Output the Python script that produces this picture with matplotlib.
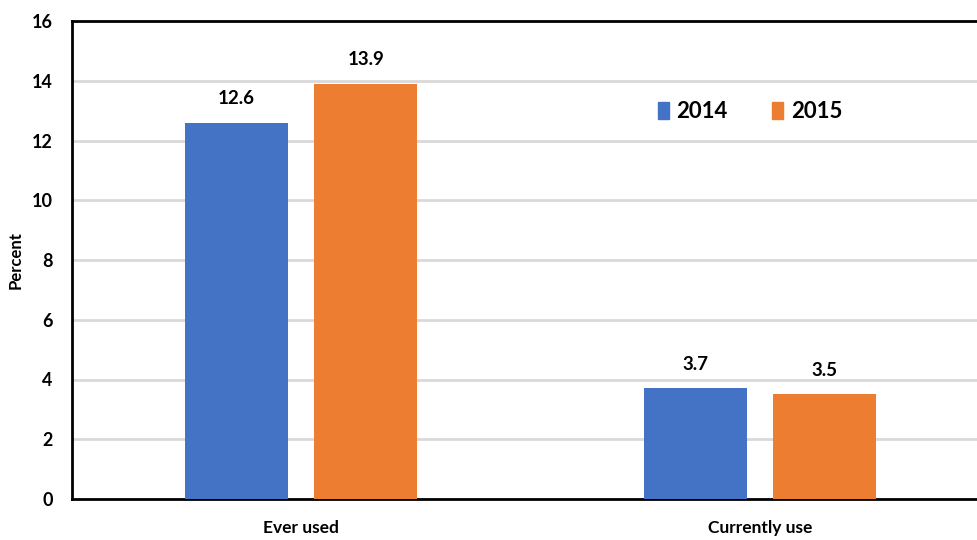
import matplotlib

matplotlib.use("Agg")
import matplotlib.pyplot as plt
import numpy as np
from matplotlib.patches import Patch

categories = ["Ever used", "Currently use"]
years = ["2014", "2015"]
values_2014 = [12.6, 3.7]
values_2015 = [13.9, 3.5]
y_ticks = [0, 2, 4, 6, 8, 10, 12, 14, 16]

BLUE = "#4472c4"
ORANGE = "#ed7d31"
GRID = "#d9d9d9"

plt.rcParams["font.family"] = ["Lato", "DejaVu Sans"]
plt.rcParams["font.weight"] = "bold"

fig = plt.figure(figsize=(9.77, 5.40), dpi=100)
# axes runs past the right edge of the canvas
ax = fig.add_axes([72 / 977, 41 / 540, 917 / 977, 478 / 540])

x = np.arange(len(categories))
width = 0.225
offset = 0.141
bars_a = ax.bar(x - offset, values_2014, width, color=BLUE, zorder=3)
bars_b = ax.bar(x + offset, values_2015, width, color=ORANGE, zorder=3)

for bars in (bars_a, bars_b):
    for bar in bars:
        h = bar.get_height()
        ax.annotate(f"{h:.1f}", (bar.get_x() + bar.get_width() / 2, h),
                    xytext=(0, 11), textcoords="offset points",
                    ha="center", va="bottom", fontsize=13.5, fontweight="bold")

ax.set_xlim(-0.5, 1.5)
ax.set_ylim(0, 16)
ax.set_yticks(y_ticks)
ax.set_xticks(x)
ax.set_xticklabels(categories)
ax.tick_params(axis="both", length=0, labelsize=13)
ax.tick_params(axis="x", pad=15, labelsize=12.5)
ax.tick_params(axis="y", pad=14)
for lbl in ax.get_xticklabels() + ax.get_yticklabels():
    lbl.set_fontweight("bold")

ax.yaxis.grid(True, color=GRID, linewidth=2, zorder=0)
ax.set_axisbelow(True)
for side in ("left", "bottom", "top"):
    ax.spines[side].set_color("black")
    ax.spines[side].set_linewidth(2)
ax.spines["right"].set_visible(False)

ax.set_ylabel("Percent", fontsize=12, fontweight="bold", labelpad=6)

handles = [Patch(color=BLUE), Patch(color=ORANGE)]
ax.legend(handles, years, loc="center", bbox_to_anchor=(750 / 977, 1 - 112 / 540),
          bbox_transform=fig.transFigure, ncol=2, frameon=False,
          prop={"size": 16, "weight": "bold"}, handlelength=0.5, handleheight=0.8,
          handletextpad=0.35, columnspacing=2.0)

fig.savefig("out.png", dpi=100)
